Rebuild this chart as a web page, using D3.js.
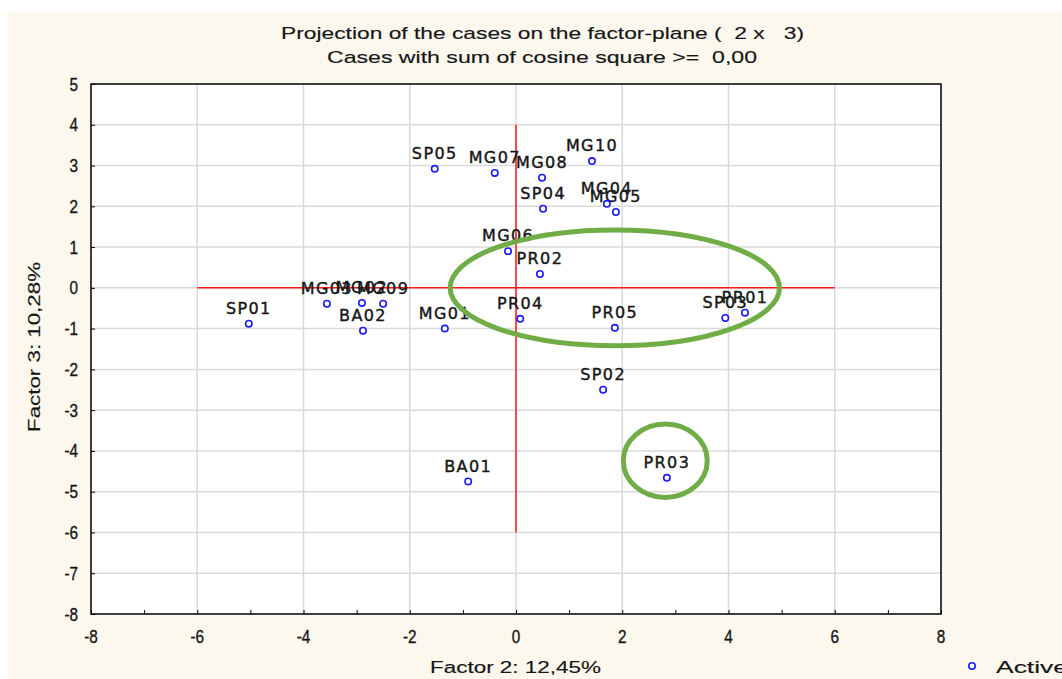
<!DOCTYPE html>
<html>
<head>
<meta charset="utf-8">
<script src="https://cdn.jsdelivr.net/npm/d3@7"></script>
<style>
  html, body { margin: 0; padding: 0; background: #fff; }
  svg { display: block; }
  text { white-space: pre; }
</style>
</head>
<body>
<svg id="chart" width="1062" height="679"></svg>
<script>
// ─── Datos ────────────────────────────────────────────────────────────────────

const labels = ['SP01', 'MG03', 'MG02', 'MG09', 'BA02', 'MG01', 'SP05', 'MG07', 'MG08', 'MG10',
                'SP04', 'MG04', 'MG05', 'MG06', 'PR02', 'PR04', 'PR05', 'SP03', 'PR01', 'SP02',
                'PR03', 'BA01'];
const factor2 = [-5.03, -3.56, -2.90, -2.50, -2.88, -1.34, -1.53, -0.40, 0.49, 1.43,
                 0.51, 1.71, 1.88, -0.15, 0.45, 0.08, 1.86, 3.94, 4.31, 1.64,
                 2.84, -0.90];
const factor3 = [-0.88, -0.39, -0.37, -0.39, -1.05, -1.00, 2.92, 2.82, 2.70, 3.11,
                 1.94, 2.06, 1.86, 0.90, 0.34, -0.76, -0.98, -0.74, -0.61, -2.50,
                 -4.66, -4.75];

const xTicks = [-8, -6, -4, -2, 0, 2, 4, 6, 8];
const yTicks = [5, 4, 3, 2, 1, 0, -1, -2, -3, -4, -5, -6, -7, -8];

// Anotaciones (elipses verdes) en unidades de datos: [cx, cy, rx, ry]
const highlights = [[1.86, 0.0, 3.1, 1.42], [2.81, -4.24, 0.79, 0.9]];

// ─── Geometría ────────────────────────────────────────────────────────────────

const svg = d3.select('#chart');
const W = 1062, H = 679;
const x = d3.scaleLinear().domain([-8, 8]).range([91, 941]);
const y = d3.scaleLinear().domain([-8, 5]).range([614, 84]);

const font = 'Liberation Sans, Arial, sans-serif';
const ink = '#161616';

// Fondo crema
svg.append('rect').attr('x', 8).attr('y', 12).attr('width', W - 8).attr('height', H - 12)
  .attr('fill', '#fdf8ee');

// Área del gráfico
svg.append('rect')
  .attr('x', x(-8)).attr('y', y(5))
  .attr('width', x(8) - x(-8)).attr('height', y(-8) - y(5))
  .attr('fill', '#fff');

// Rejilla
const grid = svg.append('g').attr('stroke', '#dadada').attr('stroke-width', 1.5);
grid.selectAll('line.gx').data(xTicks.slice(1, -1)).join('line')
  .attr('x1', d => x(d)).attr('x2', d => x(d))
  .attr('y1', y(5)).attr('y2', y(-8));
grid.selectAll('line.gy').data(yTicks.slice(1, -1)).join('line')
  .attr('y1', d => y(d)).attr('y2', d => y(d))
  .attr('x1', x(-8)).attr('x2', x(8));

// Ejes con ticks hacia dentro
const xAxis = svg.append('g').attr('transform', `translate(0,${y(-8)})`)
  .call(d3.axisBottom(x).tickValues(d3.range(-8, 9, 1)).tickSize(-4).tickFormat(''));
xAxis.select('.domain').remove();
xAxis.selectAll('.tick line').attr('stroke', '#000');

const yAxis = svg.append('g').attr('transform', `translate(${x(-8)},0)`)
  .call(d3.axisLeft(y).tickValues(yTicks).tickSize(-4).tickFormat(''));
yAxis.select('.domain').remove();
yAxis.selectAll('.tick line').attr('stroke', '#000');

// Etiquetas de ticks: altas y estrechas, como en el original
svg.append('g').selectAll('text').data(xTicks).join('text')
  .attr('transform', d => `translate(${x(d)},${y(-8) + 29}) scale(0.85,1)`)
  .attr('text-anchor', 'middle')
  .attr('font-family', font).attr('font-size', 18).attr('fill', ink)
  .attr('stroke', ink).attr('stroke-width', 0.35)
  .text(d => d);

svg.append('g').selectAll('text').data(yTicks).join('text')
  .attr('transform', d => `translate(${x(-8) - 13},${y(d) + 6.5}) scale(0.85,1)`)
  .attr('text-anchor', 'end')
  .attr('font-family', font).attr('font-size', 18).attr('fill', ink)
  .attr('stroke', ink).attr('stroke-width', 0.35)
  .text(d => d);

// Marco
svg.append('rect')
  .attr('x', x(-8)).attr('y', y(5))
  .attr('width', x(8) - x(-8)).attr('height', y(-8) - y(5))
  .attr('fill', 'none').attr('stroke', '#000').attr('stroke-width', 1.5);

// Ejes rojos de origen
svg.append('line')
  .attr('x1', x(-6)).attr('x2', x(6)).attr('y1', y(0)).attr('y2', y(0))
  .attr('stroke', '#ff1a1a').attr('stroke-width', 1.5);
svg.append('line')
  .attr('x1', x(0)).attr('x2', x(0)).attr('y1', y(4)).attr('y2', y(-6))
  .attr('stroke', '#ff1a1a').attr('stroke-width', 1.5);

// ─── Puntos y etiquetas ───────────────────────────────────────────────────────

const pts = labels.map((l, i) => ({ label: l, fx: factor2[i], fy: factor3[i] }));

svg.append('g').selectAll('text').data(pts).join('text')
  .attr('x', d => x(d.fx)).attr('y', d => y(d.fy) - 10)
  .attr('text-anchor', 'middle')
  .attr('font-family', 'DejaVu Sans, Verdana, sans-serif')
  .attr('font-size', 16).attr('letter-spacing', 1.4)
  .attr('fill', ink).attr('stroke', ink).attr('stroke-width', 0.4)
  .text(d => d.label);

svg.append('g').selectAll('circle').data(pts).join('circle')
  .attr('cx', d => x(d.fx)).attr('cy', d => y(d.fy))
  .attr('r', 3.2)
  .attr('fill', '#fff').attr('stroke', '#1a1aff').attr('stroke-width', 1.6);

// Elipses verdes de resaltado
svg.append('g').selectAll('ellipse').data(highlights).join('ellipse')
  .attr('cx', d => x(d[0])).attr('cy', d => y(d[1]))
  .attr('rx', d => x(d[2]) - x(0)).attr('ry', d => y(0) - y(d[3]))
  .attr('fill', 'none').attr('stroke', '#70ad47').attr('stroke-width', 5);

// ─── Títulos (texto ajustado al ancho del original) ──────────────────────────

function wideText(sel, str, len, size) {
  return sel.append('text')
    .attr('font-family', font).attr('font-size', size || 17).attr('fill', ink)
    .attr('stroke', ink).attr('stroke-width', 0.15)
    .attr('textLength', len).attr('lengthAdjust', 'spacingAndGlyphs')
    .text(str);
}

wideText(svg, 'Projection of the cases on the factor-plane (  2 x   3)', 523)
  .attr('x', 281).attr('y', 39);
wideText(svg, 'Cases with sum of cosine square >=  0,00', 430)
  .attr('x', 327).attr('y', 63);

wideText(svg, 'Factor 2: 12,45%', 171)
  .attr('x', 430).attr('y', 673);

wideText(svg, 'Factor 3: 10,28%', 170)
  .attr('transform', `translate(40,432) rotate(-90)`);

// Leyenda
svg.append('circle').attr('cx', 972).attr('cy', 666).attr('r', 3.2)
  .attr('fill', '#fff').attr('stroke', '#1a1aff').attr('stroke-width', 1.6);
wideText(svg, 'Active', 72).attr('x', 996).attr('y', 673);
</script>
</body>
</html>
